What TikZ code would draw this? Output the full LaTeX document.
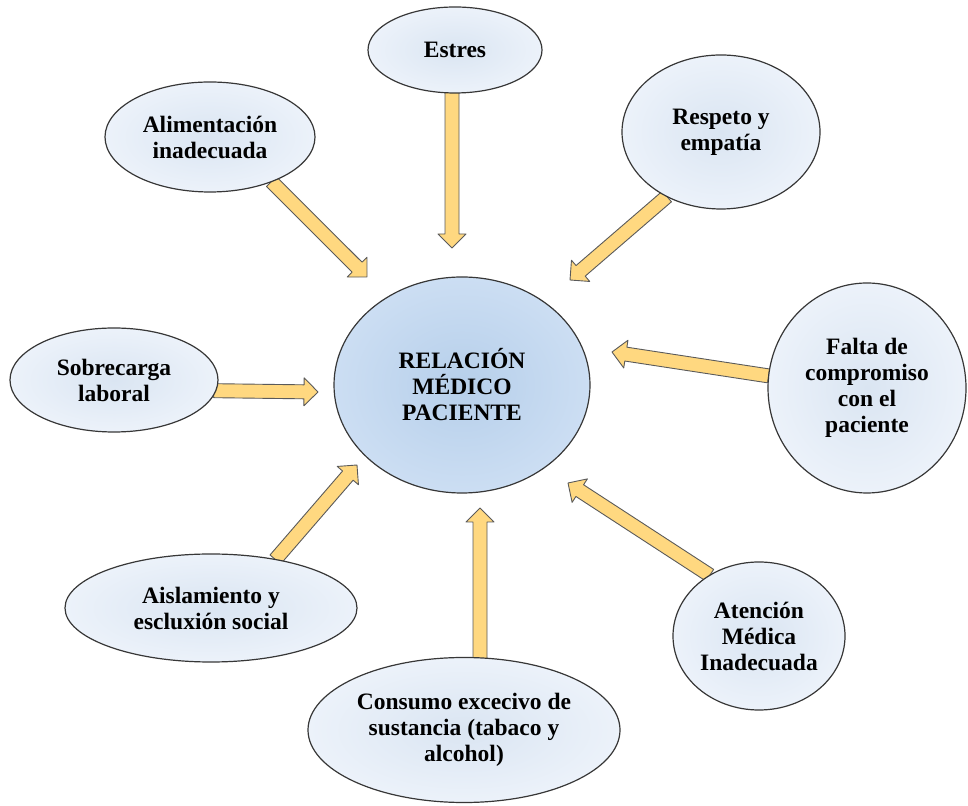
\documentclass[tikz,border=0pt]{standalone}
\usepackage{fontspec}
\setmainfont{Liberation Serif}
\usetikzlibrary{shapes.geometric,calc,backgrounds}
\definecolor{bubble}{RGB}{218,229,242}
\definecolor{bubblerim}{RGB}{236,242,250}
\definecolor{core}{RGB}{182,207,234}
\definecolor{corerim}{RGB}{204,222,243}
\definecolor{edge}{RGB}{55,55,55}
\definecolor{arrowfill}{RGB}{255,216,128}
\definecolor{arrowline}{RGB}{90,90,90}
\tikzset{
  bubblenode/.style={ellipse, draw=edge, line width=1.2pt, inner color=bubble, outer color=bubblerim,
    inner sep=0pt, outer sep=0pt, align=center, font=\fontsize{23.5}{26}\selectfont\bfseries},
  corenode/.style={bubblenode, inner color=core, outer color=corerim},
  arrowbody/.style={fill=arrowfill, draw=arrowline, line width=0.9pt, line join=round},
}
\newcommand\fatarrow[2]{%
  \coordinate (fah) at ($(#2)!14pt!(#1)$);
  \filldraw[arrowbody] ($(#1)!7pt!90:(#2)$) -- ($(fah)!7pt!90:(#2)$) -- ($(fah)!14pt!90:(#2)$) -- (#2)
    -- ($(fah)!14pt!-90:(#2)$) -- ($(fah)!7pt!-90:(#2)$) -- ($(#1)!7pt!-90:(#2)$) -- cycle;}
\begin{document}
\begin{tikzpicture}[x=1pt,y=1pt]
\useasboundingbox (0,0) rectangle (968,805);
\node[corenode, minimum width=256pt, minimum height=216pt] (rel) at (462,420) {RELACIÓN\\MÉDICO\\PACIENTE};
\node[bubblenode, minimum width=174pt, minimum height=86pt] (estres) at (455,755) {Estres};
\node[bubblenode, minimum width=210pt, minimum height=110pt] (alim) at (210,668) {Alimentación\\inadecuada};
\node[bubblenode, minimum width=198pt, minimum height=154pt] (resp) at (721,673) {Respeto y\\empatía};
\node[bubblenode, minimum width=198pt, minimum height=210pt] (falta) at (867,417) {Falta de\\compromiso\\con el\\paciente};
\node[bubblenode, minimum width=208pt, minimum height=104pt] (sobre) at (114,425) {Sobrecarga\\laboral};
\node[bubblenode, minimum width=292pt, minimum height=108pt] (aisl) at (211,197) {Aislamiento y\\escluxión social};
\node[bubblenode, minimum width=172pt, minimum height=148pt] (aten) at (759,169) {Atención\\Médica\\Inadecuada};
\node[bubblenode, minimum width=312pt, minimum height=145pt] (cons) at (464,75) {Consumo excecivo de\\sustancia (tabaco y\\alcohol)};
% tips
\coordinate (te) at (452,557);
\coordinate (ta) at (367,528);
\coordinate (tr) at (570,525);
\coordinate (tf) at (612,453);
\coordinate (ts) at (318,413);
\coordinate (ti) at (357,340);
\coordinate (tc) at (480,297);
\coordinate (tt) at (568,322);
% starts
\coordinate (se) at ($(te |- estres.south)+(0,2)$);
\coordinate (sc) at ($(tc |- cons.north)+(0,-2)$);
\coordinate (ss) at ($(sobre.-6)+(-2,0)$);
\begin{scope}[on background layer]
\fatarrow{se}{te}
\fatarrow{alim.-36}{ta}
\fatarrow{resp.230}{tr}
\fatarrow{falta.173}{tf}
\fatarrow{ss}{ts}
\fatarrow{aisl.37}{ti}
\fatarrow{sc}{tc}
\fatarrow{aten.129}{tt}
\end{scope}
\end{tikzpicture}
\end{document}
